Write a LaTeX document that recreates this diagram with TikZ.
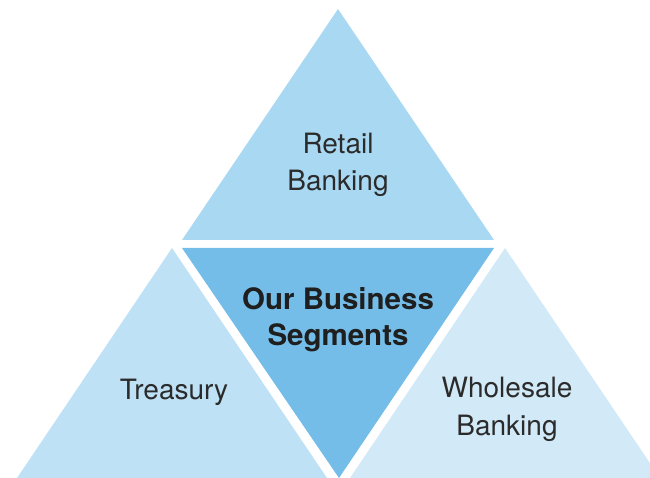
\documentclass[tikz,border=0pt]{standalone}
\usepackage{fontspec}
\setmainfont{TeX Gyre Heros}
\definecolor{retailblue}{HTML}{A9D8F2}
\definecolor{coreblue}{HTML}{74BDE8}
\definecolor{treasuryblue}{HTML}{BEE1F6}
\definecolor{wholesaleblue}{HTML}{D2E9F7}
\definecolor{labelgray}{HTML}{2B2B2B}
\tikzset{
  segment/.style={anchor=base, align=center, text=labelgray,
    font=\fontsize{28}{37.5}\selectfont},
  core/.style={segment, text=black!88, font=\fontsize{29.5}{35.5}\selectfont\bfseries}
}
\begin{document}
\begin{tikzpicture}[x=1pt,y=-1pt]
	\useasboundingbox (0,0) rectangle (650,478);
	\begin{scope}
		\clip (0,0) rectangle (650,478);
		% outer segments
		\fill[retailblue] (338,9) -- (494,240) -- (182,240) -- cycle;
		\fill[treasuryblue] (172,248) -- (327,478) -- (17,478) -- cycle;
		\fill[wholesaleblue] (505,248) -- (660,478) -- (350,478) -- cycle;
		% centre, upside down
		\fill[coreblue] (182,248) -- (494,248) -- (339,478) -- cycle;
	\end{scope}
	% base anchor sits on the last line
	\node[segment] (retail) at (338,191) {Retail\\Banking};
	\node[core] (core) at (338,345) {Our Business\\Segments};
	\node[segment] (treasury) at (174,399) {Treasury};
	\node[segment] (wholesale) at (507,435) {Wholesale\\Banking};
\end{tikzpicture}
\end{document}
